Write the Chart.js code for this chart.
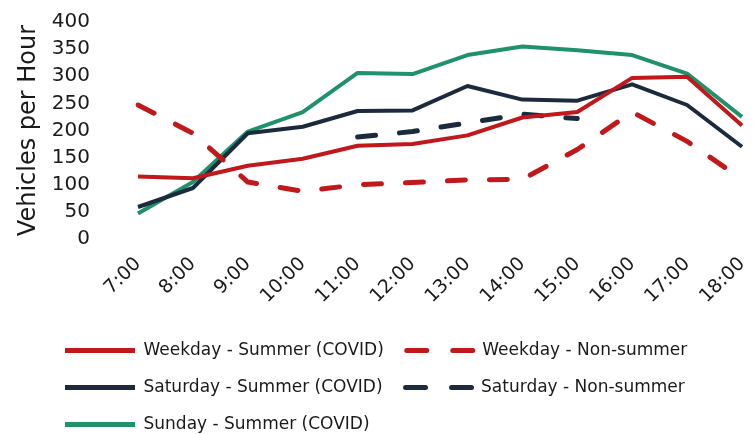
<!DOCTYPE html>
<html>
<head>
<meta charset="utf-8">
<script src="https://cdn.jsdelivr.net/npm/chart.js@4"></script>
<style>
  html, body { margin: 0; padding: 0; background: #fff; }
  #wrap { width: 754px; height: 434px; }
</style>
</head>
<body>
<div id="wrap"><canvas id="trafficChart"></canvas></div>
<script>
// data ==========

const hours = ["7:00", "8:00", "9:00", "10:00", "11:00", "12:00", "13:00", "14:00", "15:00", "16:00", "17:00", "18:00"];

const weekdaySummer = [115, 112, 135, 148, 172, 175, 191, 224, 234, 297, 299, 209];
const weekdayNonSummer = [247, 195, 105, 88, 100, 104, 109, 110, 165, 234, 180, 110];
const saturdaySummer = [59, 94, 195, 207, 236, 237, 282, 257, 255, 285, 247, 170];
const saturdayNonSummer = [null, null, null, null, 188, 198, 214, 230, 222, null, null, null];
const sundaySummer = [47, 105, 198, 234, 306, 304, 339, 355, 348, 339, 305, 225];

const yTicks = [0, 50, 100, 150, 200, 250, 300, 350, 400];

const RED = "#c0181b";
const NAVY = "#1b2b3d";
const GREEN = "#1f916b";
const FONT = "DejaVu Sans";
const DASH = [18, 24];

// end data ==========

// put the legend where the original has it (under the axis title, a bit lower)
const legendPlace = {
  id: "legendPlace",
  afterLayout(chart) {
    chart.legend.left = 45;
    chart.legend.top = 322;
  },
};

const ctx = document.getElementById("trafficChart").getContext("2d");

const trafficChart = new Chart(ctx, {
  type: "line",
  data: {
    labels: hours,
    datasets: [
      {
        label: "Weekday - Summer (COVID)",
        data: weekdaySummer,
        borderColor: RED,
        backgroundColor: RED,
        borderWidth: 4,
      },
      {
        label: "Weekday - Non-summer",
        data: weekdayNonSummer,
        borderColor: RED,
        backgroundColor: RED,
        borderWidth: 5,
        borderDash: DASH,
        borderCapStyle: "round",
      },
      {
        label: "Saturday - Summer (COVID)",
        data: saturdaySummer,
        borderColor: NAVY,
        backgroundColor: NAVY,
        borderWidth: 4,
      },
      {
        label: "Saturday - Non-summer",
        data: saturdayNonSummer,
        borderColor: NAVY,
        backgroundColor: NAVY,
        borderWidth: 5,
        borderDash: DASH,
        borderCapStyle: "round",
      },
      {
        label: "Sunday - Summer (COVID)",
        data: sundaySummer,
        borderColor: GREEN,
        backgroundColor: GREEN,
        borderWidth: 4,
      },
    ],
  },
  options: {
    responsive: true,
    maintainAspectRatio: false,
    animation: false,
    layout: {
      padding: { top: 22, right: 12, bottom: 0, left: 0 },
    },
    elements: {
      point: { radius: 0 },
      line: { tension: 0, borderJoinStyle: "round" },
    },
    scales: {
      x: {
        afterFit(scale) {
          scale.height = 74;
          scale.paddingLeft = 0;
          scale.paddingRight = 0;
        },
        grid: { display: false, drawTicks: false },
        border: { display: false },
        ticks: {
          color: "#1a1a1a",
          font: { family: FONT, size: 19 },
          minRotation: 45,
          maxRotation: 45,
          autoSkip: false,
          padding: 14,
        },
      },
      y: {
        min: 0,
        max: 400,
        afterBuildTicks(scale) {
          scale.ticks = yTicks.map((v) => ({ value: v }));
        },
        afterFit(scale) {
          scale.width = 138;
          scale.paddingTop = 0;
          scale.paddingBottom = 0;
        },
        grid: { display: false, drawTicks: false },
        border: { display: false },
        title: {
          display: true,
          text: "Vehicles per Hour",
          color: "#1a1a1a",
          font: { family: FONT, size: 24 },
          padding: { top: 14, bottom: 0 },
        },
        ticks: {
          color: "#1a1a1a",
          font: { family: FONT, size: 20 },
          autoSkip: false,
          padding: 48,
        },
      },
    },
    plugins: {
      legend: {
        position: "bottom",
        align: "start",
        labels: {
          color: "#1a1a1a",
          font: { family: FONT, size: 17 },
          usePointStyle: true,
          pointStyle: "line",
          pointStyleWidth: 70,
          padding: 20,
          generateLabels(chart) {
            const items = Chart.defaults.plugins.legend.labels.generateLabels(chart);
            return items.map((item) => {
              const ds = chart.data.datasets[item.datasetIndex];
              item.lineDash = ds.borderDash ? [20, 26] : [];
              item.lineDashOffset = ds.borderDash ? -3 : 0;
              item.lineCap = ds.borderDash ? "round" : "butt";
              item.lineWidth = 5;
              return item;
            });
          },
        },
      },
      tooltip: { enabled: false },
    },
  },
  plugins: [legendPlace],
});
</script>
</body>
</html>
